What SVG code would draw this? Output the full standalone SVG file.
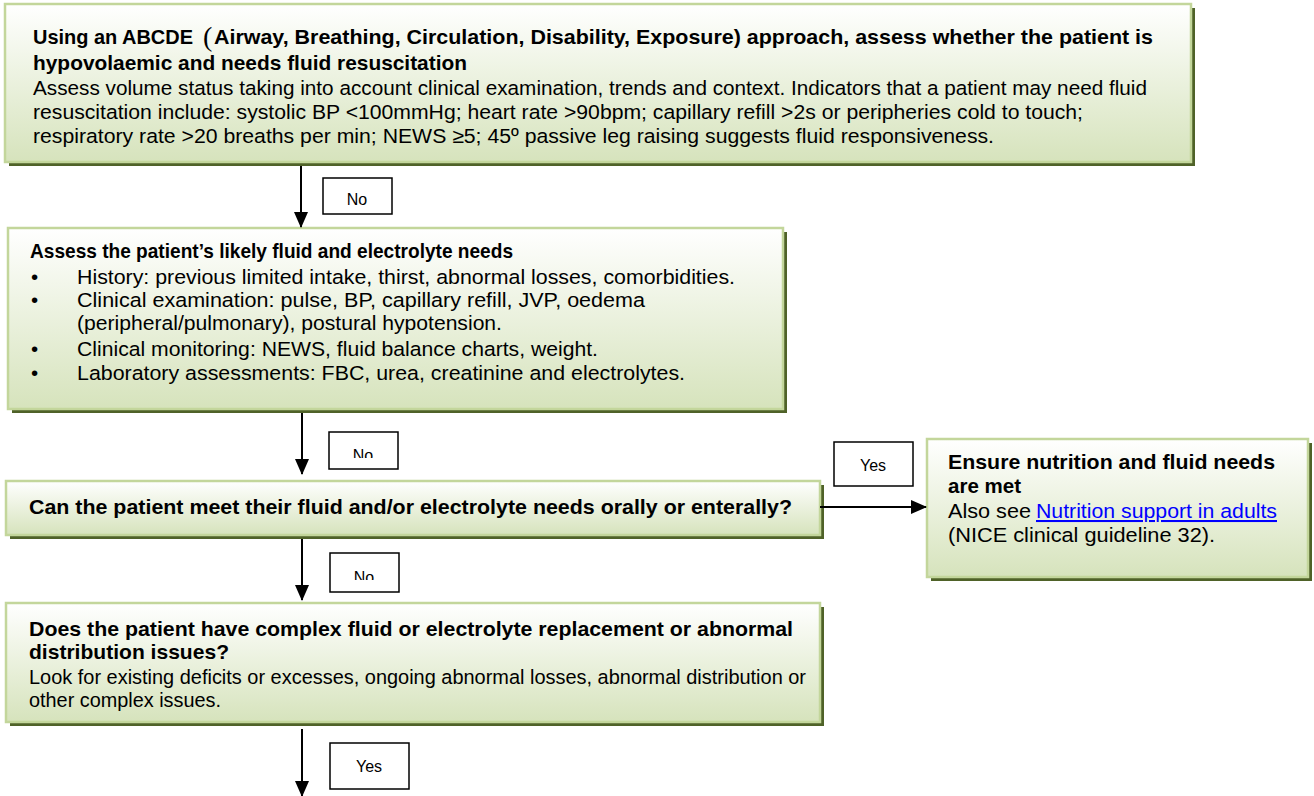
<svg xmlns="http://www.w3.org/2000/svg" width="1314" height="796" viewBox="0 0 1314 796">
<defs>
<linearGradient id="g" x1="0" y1="0" x2="0" y2="1">
<stop offset="0" stop-color="#ffffff"/>
<stop offset="1" stop-color="#d6e3bc"/>
</linearGradient>
<marker id="ah" markerWidth="16" markerHeight="14" refX="15" refY="7" orient="auto" markerUnits="userSpaceOnUse">
<path d="M0,0 L16,7 L0,14 Z" fill="#000"/>
</marker>
<clipPath id="c2"><rect x="329" y="432" width="69" height="26"/></clipPath>
<clipPath id="c3"><rect x="330" y="553" width="69" height="27"/></clipPath>
</defs>
<style>
.sh{fill:#4f6228}
.bx{fill:url(#g);stroke:#c3d69b;stroke-width:2.5}
.t{font-family:"Liberation Sans",Arial,sans-serif;font-size:20.5px;fill:#000}
.b{font-weight:bold}
.lb{fill:#fff;stroke:#000;stroke-width:1.5}
.lt{font-family:"Liberation Sans",Arial,sans-serif;font-size:16px;fill:#000;text-anchor:middle}
.cn{stroke:#000;stroke-width:2;fill:none;marker-end:url(#ah)}
.lk{fill:#0000ff;text-decoration:underline}
</style>

<g id="node-abcde">
<rect class="sh" x="9" y="8" width="1186" height="158"/>
<rect class="bx" x="5" y="4" width="1186" height="158"/>
<text class="t b" x="33" y="44" textLength="160" lengthAdjust="spacingAndGlyphs">Using an ABCDE</text>
<text x="203" y="46" style="font-family:'Liberation Serif',serif;font-size:28px" fill="#000">(</text>
<text class="t b" x="214" y="44" textLength="939" lengthAdjust="spacingAndGlyphs">Airway, Breathing, Circulation, Disability, Exposure) approach, assess whether the patient is</text>
<text class="t b" x="33" y="70" textLength="434" lengthAdjust="spacingAndGlyphs">hypovolaemic and needs fluid resuscitation</text>
<text class="t" x="33" y="95" textLength="1114" lengthAdjust="spacingAndGlyphs">Assess volume status taking into account clinical examination, trends and context. Indicators that a patient may need fluid</text>
<text class="t" x="33" y="119" textLength="1050" lengthAdjust="spacingAndGlyphs">resuscitation include: systolic BP &lt;100mmHg; heart rate &gt;90bpm; capillary refill &gt;2s or peripheries cold to touch;</text>
<text class="t" x="33" y="143" textLength="961" lengthAdjust="spacingAndGlyphs">respiratory rate &gt;20 breaths per min; NEWS ≥5; 45º passive leg raising suggests fluid responsiveness.</text>
</g>

<g id="node-needs">
<rect class="sh" x="12" y="232" width="775" height="181"/>
<rect class="bx" x="8" y="228" width="775" height="181"/>
<text class="t b" x="30" y="258" textLength="483" lengthAdjust="spacingAndGlyphs">Assess the patient’s likely fluid and electrolyte needs</text>
<text class="t" x="31" y="284">•</text>
<text class="t" x="77" y="284" textLength="658" lengthAdjust="spacingAndGlyphs">History: previous limited intake, thirst, abnormal losses, comorbidities.</text>
<text class="t" x="31" y="307">•</text>
<text class="t" x="77" y="307" textLength="568" lengthAdjust="spacingAndGlyphs">Clinical examination: pulse, BP, capillary refill, JVP, oedema</text>
<text class="t" x="77" y="330" textLength="425" lengthAdjust="spacingAndGlyphs">(peripheral/pulmonary), postural hypotension.</text>
<text class="t" x="31" y="356">•</text>
<text class="t" x="77" y="356" textLength="521" lengthAdjust="spacingAndGlyphs">Clinical monitoring: NEWS, fluid balance charts, weight.</text>
<text class="t" x="31" y="380">•</text>
<text class="t" x="77" y="380" textLength="608" lengthAdjust="spacingAndGlyphs">Laboratory assessments: FBC, urea, creatinine and electrolytes.</text>
</g>

<g id="node-oral">
<rect class="sh" x="10" y="485" width="814" height="54"/>
<rect class="bx" x="6" y="481" width="814" height="54"/>
<text class="t b" x="29" y="514" textLength="763" lengthAdjust="spacingAndGlyphs">Can the patient meet their fluid and/or electrolyte needs orally or enterally?</text>
</g>

<g id="node-nutrition">
<rect class="sh" x="931" y="443" width="381" height="138"/>
<rect class="bx" x="927" y="439" width="381" height="138"/>
<text class="t b" x="948" y="469" textLength="327" lengthAdjust="spacingAndGlyphs">Ensure nutrition and fluid needs</text>
<text class="t b" x="948" y="493" textLength="73" lengthAdjust="spacingAndGlyphs">are met</text>
<text class="t" x="948" y="518" textLength="83" lengthAdjust="spacingAndGlyphs">Also see</text>
<text class="t lk" x="1036" y="518" textLength="241" lengthAdjust="spacingAndGlyphs">Nutrition support in adults</text>
<text class="t" x="948" y="542" textLength="267" lengthAdjust="spacingAndGlyphs">(NICE clinical guideline 32).</text>
</g>

<g id="node-complex">
<rect class="sh" x="10" y="607" width="814" height="119"/>
<rect class="bx" x="6" y="603" width="814" height="119"/>
<text class="t b" x="29" y="636" textLength="764" lengthAdjust="spacingAndGlyphs">Does the patient have complex fluid or electrolyte replacement or abnormal</text>
<text class="t b" x="29" y="659" textLength="200" lengthAdjust="spacingAndGlyphs">distribution issues?</text>
<text class="t" x="29" y="684" textLength="777" lengthAdjust="spacingAndGlyphs">Look for existing deficits or excesses, ongoing abnormal losses, abnormal distribution or</text>
<text class="t" x="29" y="707" textLength="192" lengthAdjust="spacingAndGlyphs">other complex issues.</text>
</g>

<g id="connectors">
<line class="cn" x1="301" y1="166" x2="301" y2="227"/>
<line class="cn" x1="302" y1="413" x2="302" y2="474"/>
<line class="cn" x1="302" y1="539" x2="302" y2="600"/>
<line class="cn" x1="302" y1="729" x2="302" y2="796"/>
<line class="cn" x1="820" y1="507" x2="926" y2="507"/>
</g>

<g id="labels">
<rect class="lb" x="323" y="178" width="69" height="36"/>
<text class="lt" x="357" y="205">No</text>
<rect class="lb" x="329" y="432" width="69" height="37"/>
<text class="lt" x="363" y="461" clip-path="url(#c2)">No</text>
<rect class="lb" x="330" y="553" width="69" height="39"/>
<text class="lt" x="364" y="583" clip-path="url(#c3)">No</text>
<rect class="lb" x="330" y="743" width="79" height="46"/>
<text class="lt" x="369" y="772">Yes</text>
<rect class="lb" x="834" y="442" width="79" height="44"/>
<text class="lt" x="873" y="471">Yes</text>
</g>
</svg>
